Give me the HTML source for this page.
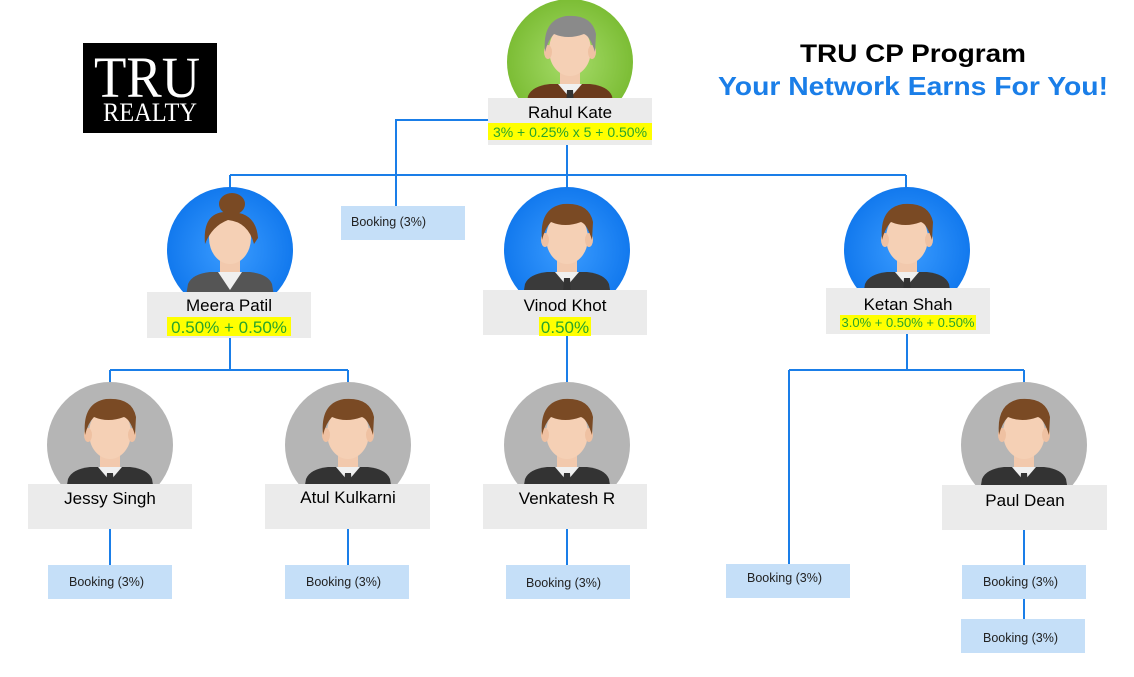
<!DOCTYPE html>
<html><head><meta charset="utf-8"><style>
html,body{margin:0;padding:0;background:#fff;}
svg{display:block;font-family:"Liberation Sans",Arial,sans-serif;}
</style></head><body>
<svg width="1134" height="677" viewBox="0 0 1134 677" xmlns="http://www.w3.org/2000/svg">
<defs>
 <clipPath id="cc"><circle cx="0" cy="0" r="63"/></clipPath>
 <g id="man">
  <g clip-path="url(#cc)">
   <rect x="-10" y="8" width="20" height="22" fill="#f2c9ad"/>
   <path d="M-48 70 L-42 34 Q-38 24 -20 22 L20 22 Q38 24 42 34 L48 70 Z" fill="currentColor"/>
   <path d="M-12 22 L0 36 L12 22 Z" fill="#f0f0f0"/>
   <path d="M-3 28 L3 28 L5 60 L0 64 L-5 60 Z" fill="#333"/>
   <ellipse cx="0" cy="-12" rx="21" ry="26" fill="#f5d0b5"/>
   <ellipse cx="-22" cy="-10" rx="4" ry="7" fill="#efc1a2"/>
   <ellipse cx="22" cy="-10" rx="4" ry="7" fill="#efc1a2"/>
   <path d="M-25 -10 Q-28 -42 -4 -46 Q22 -48 26 -28 L25 -10 Q20 -26 14 -28 Q-2 -22 -16 -28 Q-22 -22 -25 -10 Z" fill="var(--hair)"/>
  </g>
 </g>
 <g id="woman">
  <g clip-path="url(#cc)">
   <rect x="-10" y="8" width="20" height="22" fill="#f2c9ad"/>
   <path d="M-48 70 L-42 34 Q-38 24 -20 22 L20 22 Q38 24 42 34 L48 70 Z" fill="#555"/>
   <path d="M-12 22 L0 40 L12 22 Z" fill="#f0f0f0"/>
   <ellipse cx="0" cy="-12" rx="21" ry="26" fill="#f5d0b5"/>
   <ellipse cx="2" cy="-46" rx="13" ry="11" fill="#7a4a24"/>
   <path d="M-25 -6 Q-28 -40 0 -38 Q26 -38 28 -12 L24 -6 Q18 -28 -2 -30 Q-18 -24 -25 -6 Z" fill="#7a4a24"/>
  </g>
 </g>
 <radialGradient id="gg" cx="0.5" cy="0.5" r="0.5"><stop offset="0" stop-color="#a6dc6a"/><stop offset="1" stop-color="#7cbd35"/></radialGradient>
 <radialGradient id="bg" cx="0.5" cy="0.5" r="0.5"><stop offset="0" stop-color="#3b9cff"/><stop offset="1" stop-color="#1279ee"/></radialGradient>
</defs>

<!-- logo -->
<rect x="83" y="43" width="134" height="90" fill="#000"/>
<text x="147" y="97" text-anchor="middle" font-family="Liberation Serif,serif" font-size="58" fill="#fff" textLength="106" lengthAdjust="spacingAndGlyphs">TRU</text>
<text x="150" y="121" text-anchor="middle" font-family="Liberation Serif,serif" font-size="26" fill="#fff" textLength="94" lengthAdjust="spacingAndGlyphs">REALTY</text>

<!-- title -->
<text x="913" y="62" text-anchor="middle" font-size="25" font-weight="bold" fill="#000" textLength="226" lengthAdjust="spacingAndGlyphs">TRU CP Program</text>
<text x="913" y="95" text-anchor="middle" font-size="26" font-weight="bold" fill="#1a7ee8" textLength="390" lengthAdjust="spacingAndGlyphs">Your Network Earns For You!</text>

<!-- connectors -->
<g stroke="#1a7ee8" stroke-width="2" fill="none">
 <path d="M567 145 V175 M230 175 H906 M230 175 V195 M567 175 V195 M906 175 V195"/>
 <path d="M488 120 H396 V206"/>
 <path d="M230 338 V370 M110 370 H348 M110 370 V390 M348 370 V390"/>
 <path d="M567 335 V390"/>
 <path d="M907 334 V370 M789 370 H1024 M789 370 V565 M1024 370 V390"/>
 <path d="M110 529 V565 M348 529 V565 M567 529 V565 M1024 530 V565 M1024 599 V619"/>
</g>

<!-- avatars -->
<g transform="translate(570,62)"><circle r="63" fill="url(#gg)"/><use href="#man" style="color:#6b3a1c;--hair:#8a8a8a"/></g>
<g transform="translate(230,250)"><circle r="63" fill="url(#bg)"/><use href="#woman"/></g>
<g transform="translate(567,250)"><circle r="63" fill="url(#bg)"/><use href="#man" style="color:#3a3a3a;--hair:#7a4a24"/></g>
<g transform="translate(907,250)"><circle r="63" fill="url(#bg)"/><use href="#man" style="color:#3a3a3a;--hair:#7a4a24"/></g>
<g transform="translate(110,445)"><circle r="63" fill="#b5b5b5"/><use href="#man" style="color:#333;--hair:#7a4a24"/></g>
<g transform="translate(348,445)"><circle r="63" fill="#b5b5b5"/><use href="#man" style="color:#333;--hair:#7a4a24"/></g>
<g transform="translate(567,445)"><circle r="63" fill="#b5b5b5"/><use href="#man" style="color:#333;--hair:#7a4a24"/></g>
<g transform="translate(1024,445)"><circle r="63" fill="#b5b5b5"/><use href="#man" style="color:#333;--hair:#7a4a24"/></g>

<!-- label boxes -->
<g fill="#ebebeb">
 <rect x="488" y="98" width="164" height="47"/>
 <rect x="147" y="292" width="164" height="46"/>
 <rect x="483" y="290" width="164" height="45"/>
 <rect x="826" y="288" width="164" height="46"/>
 <rect x="28" y="484" width="164" height="45"/>
 <rect x="265" y="484" width="165" height="45"/>
 <rect x="483" y="484" width="164" height="45"/>
 <rect x="942" y="485" width="165" height="45"/>
</g>
<g fill="#ffff00">
 <rect x="488" y="123" width="164" height="17"/>
 <rect x="167" y="317" width="124" height="19"/>
 <rect x="539" y="317" width="52" height="19"/>
 <rect x="840" y="315" width="136" height="15"/>
</g>
<g font-size="17" fill="#000" text-anchor="middle">
 <text x="570" y="118">Rahul Kate</text>
 <text x="229" y="311">Meera Patil</text>
 <text x="565" y="311">Vinod Khot</text>
 <text x="908" y="310">Ketan Shah</text>
 <text x="110" y="504">Jessy Singh</text>
 <text x="348" y="503">Atul Kulkarni</text>
 <text x="567" y="504">Venkatesh R</text>
 <text x="1025" y="506">Paul Dean</text>
</g>
<g fill="#2aa52a" text-anchor="middle">
 <text x="570" y="137" font-size="14">3% + 0.25%  x 5 + 0.50%</text>
 <text x="229" y="333" font-size="17">0.50% + 0.50%</text>
 <text x="565" y="333" font-size="17">0.50%</text>
 <text x="908" y="327" font-size="13">3.0% + 0.50% + 0.50%</text>
</g>

<!-- bookings -->
<g fill="#c5dff8">
 <rect x="341" y="206" width="124" height="34"/>
 <rect x="48" y="565" width="124" height="34"/>
 <rect x="285" y="565" width="124" height="34"/>
 <rect x="506" y="565" width="124" height="34"/>
 <rect x="726" y="564" width="124" height="34"/>
 <rect x="962" y="565" width="124" height="34"/>
 <rect x="961" y="619" width="124" height="34"/>
</g>
<g font-size="12.5" fill="#222">
 <text x="351" y="226">Booking (3%)</text>
 <text x="69" y="586">Booking (3%)</text>
 <text x="306" y="586">Booking (3%)</text>
 <text x="526" y="587">Booking (3%)</text>
 <text x="747" y="582">Booking (3%)</text>
 <text x="983" y="586">Booking (3%)</text>
 <text x="983" y="642">Booking (3%)</text>
</g>
</svg>
</body></html>
